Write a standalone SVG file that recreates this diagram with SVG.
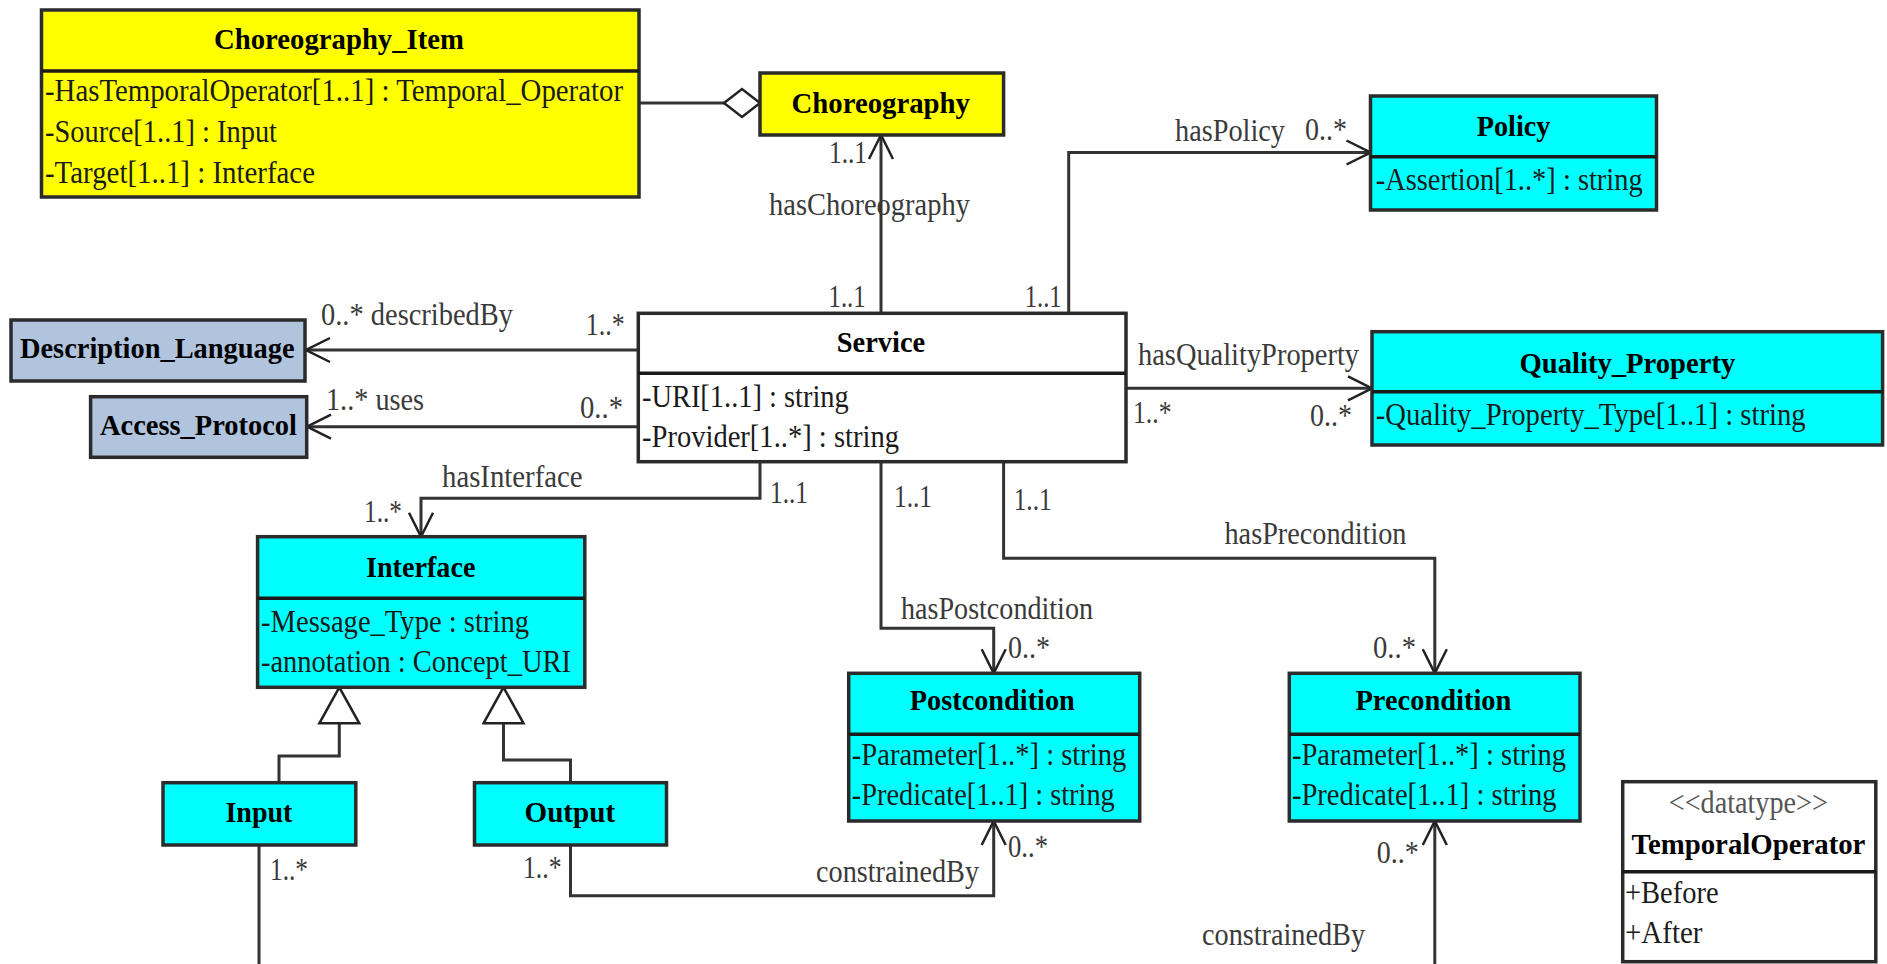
<svg xmlns="http://www.w3.org/2000/svg" width="1887" height="964" viewBox="0 0 1887 964">
<defs>
<style>
text{font-family:"Liberation Serif","Times New Roman",serif;font-size:31px;fill:#1a1a1a}
.t{font-weight:bold;fill:#000;font-size:30px}
.l{fill:#3a3a3a}
.st{fill:#555}
.box{stroke:#2b2b2b;stroke-width:3.5}
.yel{fill:#ffff00}
.cy{fill:#00ffff}
.bl{fill:#b0c4de}
.wh{fill:#ffffff}
.sep{stroke:#1a1a1a;stroke-width:3.5}
.c{fill:none;stroke:#333;stroke-width:3}
</style>
<marker id="open" viewBox="0 0 28 28" refX="26" refY="14" markerWidth="28" markerHeight="28" markerUnits="userSpaceOnUse" orient="auto">
<path d="M2,2 L26,14 L2,26" fill="none" stroke="#222" stroke-width="2.5"/>
</marker>
<marker id="tri" viewBox="0 0 40 44" refX="38" refY="22" markerWidth="40" markerHeight="44" markerUnits="userSpaceOnUse" orient="auto">
<path d="M2,2 L38,22 L2,42 Z" fill="#fff" stroke="#222" stroke-width="2.5"/>
</marker>
<marker id="dia" viewBox="0 0 40 32" refX="38" refY="16" markerWidth="40" markerHeight="32" markerUnits="userSpaceOnUse" orient="auto">
<path d="M2,16 L20,2 L38,16 L20,30 Z" fill="#fff" stroke="#222" stroke-width="2.5"/>
</marker>
</defs>
<rect width="1887" height="964" fill="#fff"/>

<g id="connectors">
<path class="c" d="M639,103 H760" marker-end="url(#dia)"/>
<path class="c" d="M881,313 V135" marker-end="url(#open)"/>
<path class="c" d="M1068.7,313 V152.5 H1370.5" marker-end="url(#open)"/>
<path class="c" d="M1126,388.3 H1372" marker-end="url(#open)"/>
<path class="c" d="M638,350 H306" marker-end="url(#open)"/>
<path class="c" d="M638,426.7 H307" marker-end="url(#open)"/>
<path class="c" d="M760,461.7 V498.3 H421 V536.7" marker-end="url(#open)"/>
<path class="c" d="M881,461.7 V628.3 H993.7 V673.3" marker-end="url(#open)"/>
<path class="c" d="M1003.6,461.7 V558.3 H1434.8 V673.3" marker-end="url(#open)"/>
<path class="c" d="M279,782.7 V756 H339.3 V687.3" marker-end="url(#tri)"/>
<path class="c" d="M570.5,782.7 V760 H503.5 V687.3" marker-end="url(#tri)"/>
<path class="c" d="M259,845 V964"/>
<path class="c" d="M570.5,845 V895.7 H993.7 V821" marker-end="url(#open)"/>
<path class="c" d="M1434.8,964 V821" marker-end="url(#open)"/>
</g>

<g id="labels">
<text class="l" x="829" y="163" textLength="38" lengthAdjust="spacingAndGlyphs">1..1</text>
<text class="l" x="769" y="215" textLength="201" lengthAdjust="spacingAndGlyphs">hasChoreography</text>
<text class="l" x="1175" y="141" textLength="110" lengthAdjust="spacingAndGlyphs">hasPolicy</text>
<text class="l" x="1305" y="140" textLength="42" lengthAdjust="spacingAndGlyphs">0..*</text>
<text class="l" x="828.6" y="306.7" textLength="37" lengthAdjust="spacingAndGlyphs">1..1</text>
<text class="l" x="1024.7" y="306.7" textLength="37" lengthAdjust="spacingAndGlyphs">1..1</text>
<text class="l" x="321" y="325" textLength="192" lengthAdjust="spacingAndGlyphs">0..* describedBy</text>
<text class="l" x="585.7" y="335" textLength="39" lengthAdjust="spacingAndGlyphs">1..*</text>
<text class="l" x="326" y="410" textLength="98" lengthAdjust="spacingAndGlyphs">1..* uses</text>
<text class="l" x="580" y="418.3" textLength="43" lengthAdjust="spacingAndGlyphs">0..*</text>
<text class="l" x="1138" y="365" textLength="221" lengthAdjust="spacingAndGlyphs">hasQualityProperty</text>
<text class="l" x="1133" y="423.3" textLength="38.5" lengthAdjust="spacingAndGlyphs">1..*</text>
<text class="l" x="1310" y="426" textLength="42" lengthAdjust="spacingAndGlyphs">0..*</text>
<text class="l" x="442" y="487" textLength="140.6" lengthAdjust="spacingAndGlyphs">hasInterface</text>
<text class="l" x="364" y="521.7" textLength="38" lengthAdjust="spacingAndGlyphs">1..*</text>
<text class="l" x="770" y="503.3" textLength="38" lengthAdjust="spacingAndGlyphs">1..1</text>
<text class="l" x="894" y="506.7" textLength="38" lengthAdjust="spacingAndGlyphs">1..1</text>
<text class="l" x="1013.7" y="510" textLength="38" lengthAdjust="spacingAndGlyphs">1..1</text>
<text class="l" x="1224.5" y="544" textLength="182" lengthAdjust="spacingAndGlyphs">hasPrecondition</text>
<text class="l" x="901" y="619" textLength="192" lengthAdjust="spacingAndGlyphs">hasPostcondition</text>
<text class="l" x="1008" y="658.3" textLength="42" lengthAdjust="spacingAndGlyphs">0..*</text>
<text class="l" x="1373" y="658.3" textLength="43" lengthAdjust="spacingAndGlyphs">0..*</text>
<text class="l" x="1008" y="856.7" textLength="40" lengthAdjust="spacingAndGlyphs">0..*</text>
<text class="l" x="1376.8" y="863.3" textLength="42" lengthAdjust="spacingAndGlyphs">0..*</text>
<text class="l" x="816" y="881.7" textLength="163" lengthAdjust="spacingAndGlyphs">constrainedBy</text>
<text class="l" x="1202" y="945" textLength="163" lengthAdjust="spacingAndGlyphs">constrainedBy</text>
<text class="l" x="270" y="880" textLength="38" lengthAdjust="spacingAndGlyphs">1..*</text>
<text class="l" x="523" y="878.3" textLength="38.6" lengthAdjust="spacingAndGlyphs">1..*</text>
</g>

<g id="Choreography_Item">
<rect class="box yel" x="41.5" y="10" width="597.5" height="187"/>
<line class="sep" x1="41.5" y1="71" x2="639" y2="71"/>
<text class="t" x="214" y="49" textLength="250" lengthAdjust="spacingAndGlyphs">Choreography_Item</text>
<text x="45" y="101" textLength="578" lengthAdjust="spacingAndGlyphs">-HasTemporalOperator[1..1] : Temporal_Operator</text>
<text x="45" y="142" textLength="232" lengthAdjust="spacingAndGlyphs">-Source[1..1] : Input</text>
<text x="45" y="183" textLength="270" lengthAdjust="spacingAndGlyphs">-Target[1..1] : Interface</text>
</g>

<g id="Choreography">
<rect class="box yel" x="760" y="73" width="243.6" height="62"/>
<text class="t" x="791.5" y="113" textLength="178.5" lengthAdjust="spacingAndGlyphs">Choreography</text>
</g>

<g id="Policy">
<rect class="box cy" x="1370.5" y="96" width="286" height="114"/>
<line class="sep" x1="1370.5" y1="156.7" x2="1656.5" y2="156.7"/>
<text class="t" x="1476.7" y="136" textLength="73.7" lengthAdjust="spacingAndGlyphs">Policy</text>
<text x="1375.7" y="190" textLength="267" lengthAdjust="spacingAndGlyphs">-Assertion[1..*] : string</text>
</g>

<g id="Quality_Property">
<rect class="box cy" x="1372" y="331.7" width="510.6" height="113.3"/>
<line class="sep" x1="1372" y1="391.7" x2="1882.6" y2="391.7"/>
<text class="t" x="1519.5" y="373" textLength="215.8" lengthAdjust="spacingAndGlyphs">Quality_Property</text>
<text x="1375.7" y="425" textLength="430" lengthAdjust="spacingAndGlyphs">-Quality_Property_Type[1..1] : string</text>
</g>

<g id="Description_Language">
<rect class="box bl" x="11" y="320" width="294" height="61"/>
<text class="t" x="20" y="358" textLength="274.6" lengthAdjust="spacingAndGlyphs">Description_Language</text>
</g>

<g id="Access_Protocol">
<rect class="box bl" x="90.6" y="396.7" width="216.1" height="60.6"/>
<text class="t" x="100" y="435" textLength="197" lengthAdjust="spacingAndGlyphs">Access_Protocol</text>
</g>

<g id="Service">
<rect class="box wh" x="638.3" y="313.3" width="487.7" height="148.4"/>
<line class="sep" x1="638.3" y1="373.3" x2="1126" y2="373.3"/>
<text class="t" x="836.8" y="351.7" textLength="88.4" lengthAdjust="spacingAndGlyphs">Service</text>
<text x="642" y="407" textLength="206.7" lengthAdjust="spacingAndGlyphs">-URI[1..1] : string</text>
<text x="642" y="447" textLength="257" lengthAdjust="spacingAndGlyphs">-Provider[1..*] : string</text>
</g>

<g id="Interface">
<rect class="box cy" x="257.6" y="536.7" width="327.2" height="150.6"/>
<line class="sep" x1="257.6" y1="598.3" x2="584.8" y2="598.3"/>
<text class="t" x="366" y="576.7" textLength="109.4" lengthAdjust="spacingAndGlyphs">Interface</text>
<text x="261" y="631.7" textLength="268" lengthAdjust="spacingAndGlyphs">-Message_Type : string</text>
<text x="261" y="671.7" textLength="310" lengthAdjust="spacingAndGlyphs">-annotation : Concept_URI</text>
</g>

<g id="Input">
<rect class="box cy" x="163" y="782.7" width="192.8" height="62.3"/>
<text class="t" x="225.4" y="821.7" textLength="67" lengthAdjust="spacingAndGlyphs">Input</text>
</g>

<g id="Output">
<rect class="box cy" x="474.5" y="782.7" width="192" height="62.3"/>
<text class="t" x="524.5" y="821.7" textLength="90.6" lengthAdjust="spacingAndGlyphs">Output</text>
</g>

<g id="Postcondition">
<rect class="box cy" x="848.7" y="673.3" width="291" height="147.7"/>
<line class="sep" x1="848.7" y1="734.3" x2="1139.7" y2="734.3"/>
<text class="t" x="909.8" y="710" textLength="165" lengthAdjust="spacingAndGlyphs">Postcondition</text>
<text x="851.8" y="765" textLength="274.5" lengthAdjust="spacingAndGlyphs">-Parameter[1..*] : string</text>
<text x="851.8" y="805" textLength="263" lengthAdjust="spacingAndGlyphs">-Predicate[1..1] : string</text>
</g>

<g id="Precondition">
<rect class="box cy" x="1289.3" y="673.3" width="290.7" height="147.7"/>
<line class="sep" x1="1289.3" y1="734.3" x2="1580" y2="734.3"/>
<text class="t" x="1355.4" y="710" textLength="156" lengthAdjust="spacingAndGlyphs">Precondition</text>
<text x="1292" y="765" textLength="274" lengthAdjust="spacingAndGlyphs">-Parameter[1..*] : string</text>
<text x="1292" y="805" textLength="264.5" lengthAdjust="spacingAndGlyphs">-Predicate[1..1] : string</text>
</g>

<g id="TemporalOperator">
<rect class="box wh" x="1622.7" y="781.7" width="253.1" height="180"/>
<line class="sep" x1="1622.7" y1="871.7" x2="1875.8" y2="871.7"/>
<text class="st" x="1668.8" y="813" textLength="159" lengthAdjust="spacingAndGlyphs">&lt;&lt;datatype&gt;&gt;</text>
<text class="t" x="1631.4" y="854" textLength="234" lengthAdjust="spacingAndGlyphs">TemporalOperator</text>
<text x="1625" y="903.3" textLength="93.6" lengthAdjust="spacingAndGlyphs">+Before</text>
<text x="1625" y="943.3" textLength="77.5" lengthAdjust="spacingAndGlyphs">+After</text>
</g>
</svg>
